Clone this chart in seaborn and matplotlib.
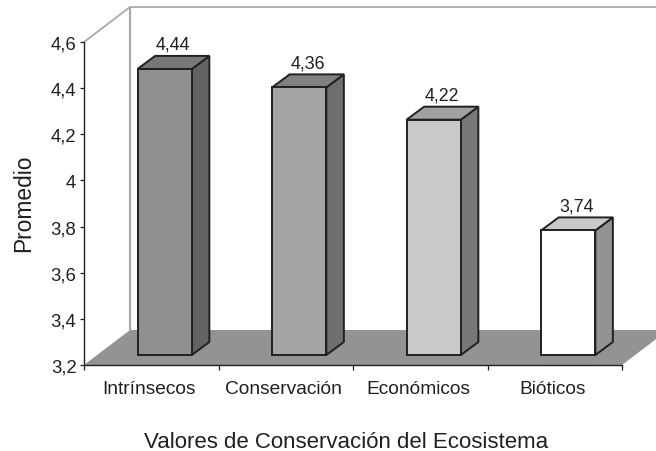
import seaborn as sns
import matplotlib.pyplot as plt
from matplotlib.patches import Polygon
from matplotlib.transforms import Affine2D

categorias = ['Intrínsecos', 'Conservación', 'Económicos', 'Bióticos']
valores = [4.44, 4.36, 4.22, 3.74]
etiquetas = ['4,44', '4,36', '4,22', '3,74']
ticks_y = [3.2, 3.4, 3.6, 3.8, 4.0, 4.2, 4.4, 4.6]
ticks_y_txt = ['3,2', '3,4', '3,6', '3,8', '4', '4,2', '4,4', '4,6']

color_frente = ['#8f9092', '#a3a4a6', '#c8c9cb', '#ffffff']
color_lado = ['#626365', '#6e6f71', '#77787a', '#929395']
color_tapa = ['#77787a', '#808183', '#a0a1a3', '#c8c9cb']
color_piso = '#929395'
color_pared = '#a8a9ab'
color_linea = '#231f20'

sns.set_theme(style='white')
plt.rcParams['font.family'] = ['Liberation Sans', 'DejaVu Sans']
plt.rcParams['text.color'] = color_linea

W, H = 656, 452
fig = plt.figure(figsize=(W / 100, H / 100), dpi=100)
ax = fig.add_axes([84 / W, 1 - 366 / H, 538 / W, 323 / H])

sns.barplot(x=categorias, y=valores, hue=categorias, palette=color_frente,
            width=0.403, saturation=1, edgecolor=color_linea, linewidth=1.4,
            legend=False, ax=ax, zorder=4)

ax.set_xlim(-0.5, 3.5)
ax.set_ylim(3.2, 4.6)
y0, y1 = ax.get_ylim()

# desplazamientos en pixeles para simular el 3D
prof_pared = (46, 35)
plano_barra = (13.5, 10)
prof_barra = (17.5, 13)


def mover(dx, dy):
    return ax.transData + Affine2D().translate(dx, dy)


# piso y pared de fondo
t0 = ax.transData
pts = [t0.transform((-0.5, y0)), t0.transform((3.5, y0))]
pts += [pts[1] + prof_pared, pts[0] + prof_pared]
ax.add_patch(Polygon(pts, closed=True, fc=color_piso, ec='none',
                     transform=None, clip_on=False, zorder=1))
esq = t0.transform((-0.5, y1))
pared = [esq, esq + prof_pared, (W + 5, esq[1] + prof_pared[1])]
ax.add_patch(Polygon(pared, closed=False, fill=False, ec=color_pared, lw=1.3,
                     transform=None, clip_on=False, zorder=1))
ax.add_patch(Polygon([esq + prof_pared, pts[3]], closed=False, fill=False, ec=color_pared,
                     lw=1.6, transform=None, clip_on=False, zorder=1))

# barras: frente, lado y tapa
for barra, val, txt, lado, tapa in zip(ax.patches[:4], valores, etiquetas, color_lado, color_tapa):
    barra.set_y(y0)
    barra.set_height(val - y0)
    barra.set_transform(mover(*plano_barra))
    barra.set_clip_on(False)
    x_a = barra.get_x()
    x_b = x_a + barra.get_width()
    t = mover(*plano_barra)
    a = t.transform((x_a, val))
    b = t.transform((x_b, val))
    c = t.transform((x_b, y0))
    d = prof_barra
    ax.add_patch(Polygon([b, c, c + d, b + d], closed=True, fc=lado, ec=color_linea, lw=1.4,
                         transform=None, clip_on=False, zorder=3))
    ax.add_patch(Polygon([a, b, b + d, a + d], closed=True, fc=tapa, ec=color_linea, lw=1.4,
                         transform=None, clip_on=False, zorder=3))
    ax.text((x_a + x_b) / 2, val, txt, transform=mover(plano_barra[0] + 8.5, plano_barra[1] + prof_barra[1] + 7),
            ha='center', va='baseline', fontsize=12.8, clip_on=False, zorder=5)

# ejes
sns.despine(ax=ax)
for lado_eje in ['left', 'bottom']:
    ax.spines[lado_eje].set_color(color_linea)
    ax.spines[lado_eje].set_linewidth(1.0)
ax.set_yticks(ticks_y)
ax.set_yticklabels(ticks_y_txt)
ax.set_xticks([-0.5, 0.5, 1.5, 2.5, 3.5])
ax.set_xticklabels([])
ax.set_xticks([0, 1, 2, 3], minor=True)
ax.set_xticklabels(categorias, minor=True)
ax.tick_params(axis='y', which='major', left=True, length=3, width=0.9, pad=2.5,
               labelsize=13.3, color=color_linea, labelcolor=color_linea)
ax.tick_params(axis='x', which='major', bottom=True, length=3.5, width=0.9, color=color_linea)
ax.tick_params(axis='x', which='minor', bottom=False, length=0, pad=11, labelsize=13.8,
               labelcolor=color_linea)
for etiqueta in ax.get_xticklabels(minor=True):
    etiqueta.set_transform(etiqueta.get_transform() + Affine2D().translate(-2, 0))

fig.text(24 / W, 1 - 203 / H, 'Promedio', rotation=90, ha='center', va='center',
         fontsize=16.4, color=color_linea)
fig.text(346 / W, 1 - 443 / H, 'Valores de Conservación del Ecosistema', ha='center', va='center',
         fontsize=16, color=color_linea)

fig.savefig('out.png', dpi=100, facecolor='white')
